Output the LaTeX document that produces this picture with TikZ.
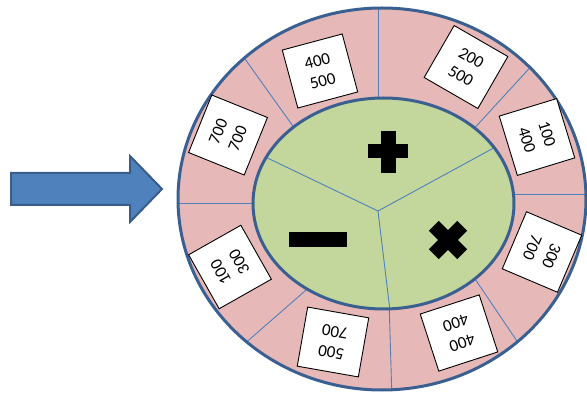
\documentclass[tikz,border=0pt]{standalone}
\usepackage{fontspec}
\setmainfont{Carlito}
\definecolor{RingPink}{RGB}{230,185,184}
\definecolor{HubGreen}{RGB}{195,214,155}
\definecolor{RimBlue}{RGB}{58,96,145}
\definecolor{SpokeBlue}{RGB}{79,129,189}
\definecolor{ArrowEdge}{RGB}{56,93,138}

\begin{document}
\begin{tikzpicture}[x=1pt, y=1pt,
    rim/.style={draw=RimBlue, line width=3pt},
    spoke/.style={draw=SpokeBlue, line width=0.9pt},
    card/.style={draw=black, line width=0.9pt, fill=white, inner sep=0pt,
        minimum width=62pt, minimum height=60pt, align=center,
        font=\fontsize{17}{21}\selectfont},
    sign/.style={fill=black},
    bigarrow/.style={fill=SpokeBlue, draw=ArrowEdge, line width=2pt, line join=miter},
]
\useasboundingbox (0,0) rectangle (587,394);

% ============ flecha de entrada ============
\draw[bigarrow] (11,221) -- (130,221) -- (130,238) -- (162,205)
    -- (130,172) -- (130,189) -- (11,189) -- cycle;

% ============ anillo exterior ============
\fill[RingPink] (382,195) ellipse [x radius=204, y radius=191];
\begin{scope}
  \clip (382,195) ellipse [x radius=204, y radius=191];
  \foreach \ax/\ay/\bx/\by in {378/394/378/284, 240/342/300/258, 170/191/265/191,
      242/48/313/110, 389/94/392/-6, 471/121/523/44, 505/200/595/200, 470/261/537/334}
    \draw[spoke] (\ax,\ay) -- (\bx,\by);
\end{scope}
\draw[rim] (382,195) ellipse [x radius=204, y radius=191];

% ============ centro ============
\fill[HubGreen] (383.5,190.5) ellipse [x radius=130.5, y radius=105.5];
\begin{scope}
  \clip (383.5,190.5) ellipse [x radius=130.5, y radius=105.5];
  \coordinate (hub) at (378,183);
  \foreach \bx/\by in {257/241, 501/250, 391/75}
    \draw[spoke] (hub) -- (\bx,\by);
\end{scope}
\draw[rim] (383.5,190.5) ellipse [x radius=130.5, y radius=105.5];

% signos
\fill[sign] (368,236) rectangle (408,250);
\fill[sign] (380.5,221) rectangle (395.5,263);
\fill[sign] (289,147) rectangle (347,162);
\begin{scope}[shift={(448,154)}, rotate=45]
  \fill[sign] (-20,-7) rectangle (20,7);
  \fill[sign] (-7,-20) rectangle (7,20);
\end{scope}

% ============ tarjetas ============
\foreach \x/\y/\r/\u/\v [count=\i] in {
    320/323/15/400/500, 228/259/68/700/700, 466/327/-30/200/500,
    537/257/-73/100/400, 542/142/-113/300/700, 459/61/-162/400/400,
    333/52/170/500/700, 230/127/119.5/100/300}
  \node[card, rotate=\r] (card\i) at (\x,\y) {\u\\\v};

\end{tikzpicture}
\end{document}
